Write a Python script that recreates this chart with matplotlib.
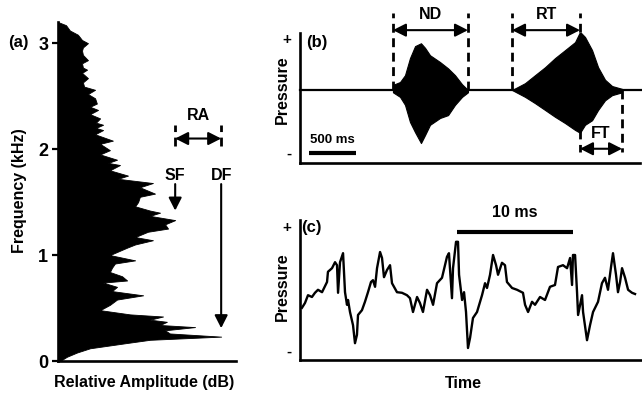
import matplotlib
matplotlib.use("Agg")
import matplotlib.pyplot as plt
import numpy as np

plt.rcParams['font.family'] = ['Liberation Sans', 'DejaVu Sans']
plt.rcParams['font.weight'] = 'bold'

# ---------------- (a) amplitude spectrum ----------------
spec_freq_khz = [3.20, 3.17, 3.12, 3.08, 3.03, 3.00, 2.96, 2.93, 2.89, 2.84, 2.81, 2.77,
                 2.75, 2.72, 2.67, 2.63, 2.59, 2.56, 2.52, 2.48, 2.43, 2.40, 2.37, 2.33,
                 2.29, 2.25, 2.23, 2.20, 2.18, 2.14, 2.08, 2.05, 1.99, 1.95, 1.90, 1.87,
                 1.85, 1.80, 1.75, 1.72, 1.68, 1.64, 1.58, 1.55, 1.50, 1.46, 1.42, 1.40,
                 1.37, 1.33, 1.29, 1.25, 1.22, 1.17, 1.14, 1.10, 1.07, 1.00, 0.95, 0.92,
                 0.88, 0.84, 0.80, 0.76, 0.74, 0.70, 0.66, 0.62, 0.58, 0.53, 0.48, 0.44,
                 0.42, 0.39, 0.37, 0.34, 0.32, 0.29, 0.26, 0.23, 0.20, 0.17, 0.12, 0.08,
                 0.04, 0.00]
spec_amp_db = [0.0, 2.7, 4.0, 6.7, 8.1, 10.1, 8.4, 8.1, 8.4, 10.1, 8.1, 8.4,
               9.8, 8.1, 10.1, 8.4, 8.8, 12.5, 10.1, 12.5, 13.1, 10.8, 13.5, 10.8,
               14.2, 12.8, 15.2, 12.8, 15.2, 12.5, 18.5, 14.2, 17.5, 14.2, 19.9, 16.9,
               20.9, 17.5, 23.6, 20.2, 32.0, 27.6, 32.7, 27.6, 27.0, 26.0, 31.0, 34.4,
               31.0, 39.5, 36.1, 37.1, 30.3, 26.0, 32.0, 26.0, 23.3, 17.5, 26.0, 19.2,
               18.2, 17.5, 21.6, 23.3, 15.2, 19.9, 18.2, 28.7, 19.9, 17.5, 14.2, 24.3,
               35.4, 31.0, 36.7, 34.4, 46.2, 36.1, 37.7, 55.0, 31.0, 23.3, 10.8, 6.4,
               3.0, 0.7]
freq_ticks = [0, 1, 2, 3]
sf_khz, sf_db = 1.33, 39.5      # spectral peak of highest amplitude in the upper band
df_khz, df_db = 0.23, 55.0      # dominant frequency

# ---------------- (b) call envelope ----------------
note1_t_ms = [989, 1064, 1117, 1170, 1224, 1287, 1330, 1383, 1490, 1575, 1649, 1724, 1787]
note1_top = [0.09, 0.14, 0.26, 0.56, 0.77, 0.82, 0.74, 0.61, 0.49, 0.38, 0.26, 0.10, 0.0]
note1_bot = [-0.04, -0.12, -0.26, -0.56, -0.74, -0.93, -0.79, -0.61, -0.49, -0.44, -0.26, -0.12, -0.04]
note2_t_ms = [2256, 2394, 2500, 2607, 2713, 2820, 2926, 2979, 3032, 3107, 3171, 3245, 3320, 3426]
note2_top = [0.0, 0.12, 0.26, 0.40, 0.56, 0.70, 0.84, 1.02, 0.93, 0.70, 0.40, 0.18, 0.07, 0.02]
note2_bot = [0.0, -0.12, -0.23, -0.35, -0.47, -0.58, -0.70, -0.75, -0.61, -0.53, -0.35, -0.18, -0.09, -0.04]
nd_ms = (989, 1787)
rt_ms = (2256, 2979)
ft_ms = (2979, 3426)
scale_b_ms = (100, 600)

# ---------------- (c) waveform detail ----------------
wave_t_ms = [0.17, 0.43, 0.69, 1.03, 1.29, 1.55, 1.90, 2.33, 2.41, 2.76, 3.02, 3.19, 3.28, 3.45,
             3.71, 3.88, 4.05, 4.14, 4.31, 4.57, 4.74, 4.91, 5.00, 5.34, 5.60, 5.86, 6.12, 6.29,
             6.47, 6.64, 6.90, 7.07, 7.24, 7.50, 7.76, 7.93, 8.36, 8.79, 9.22, 9.48, 9.74, 10.09,
             10.34, 10.60, 10.95, 11.21, 11.47, 11.81, 12.24, 12.67, 12.84, 13.10, 13.19, 13.45,
             13.62, 13.71, 13.97, 14.14, 14.31, 14.48, 14.66, 14.91, 15.26, 15.69, 15.95, 16.12,
             16.38, 16.64, 16.90, 17.07, 17.41, 17.67, 17.84, 18.28, 18.71, 19.22, 19.40, 19.66,
             20.00, 20.26, 20.69, 21.12, 21.55, 21.98, 22.24, 22.67, 23.02, 23.28, 23.45, 23.53,
             23.71, 23.88, 23.97, 24.31, 24.40, 24.74, 25.00, 25.26, 25.69, 26.03, 26.29, 26.55,
             26.81, 26.98, 27.24, 27.41, 27.59, 27.76, 28.02, 28.28, 28.62, 28.88]
wave_p = [-0.13, -0.05, 0.08, 0.05, 0.12, 0.17, 0.13, 0.30, 0.47, 0.53, 0.63, 0.58, 0.12, 0.63,
          0.78, 0.13, -0.08, 0.00, -0.20, -0.42, -0.72, -0.58, -0.25, -0.17, -0.03, 0.13, 0.30, 0.33,
          0.22, 0.53, 0.80, 0.70, 0.38, 0.50, 0.58, 0.28, 0.13, 0.12, 0.08, 0.03, -0.20, 0.05,
          -0.05, -0.20, 0.17, 0.08, -0.08, 0.28, 0.37, 0.72, 0.78, 0.03, 0.53, 0.97,
          0.97, 0.42, 0.00, 0.13, -0.20, -0.80, -0.63, -0.30, -0.20, 0.08, 0.28, 0.20,
          0.42, 0.75, 0.58, 0.42, 0.62, 0.58, 0.30, 0.20, 0.17, 0.12, -0.08, -0.20,
          -0.03, -0.08, 0.05, 0.00, 0.22, 0.25, 0.55, 0.58, 0.53, 0.70, 0.25, 0.75,
          0.75, 0.13, -0.25, 0.08, -0.20, -0.67, -0.42, -0.20, -0.03, 0.28, 0.37, 0.17,
          0.55, 0.78, 0.42, 0.13, 0.30, 0.53, 0.37, 0.17, 0.12, 0.10]
scale_c_ms = (13.5, 23.5)

W, H = 642, 398
fig = plt.figure(figsize=(W / 100, H / 100), dpi=100)


def frac(left, top, right, bottom):
    return [left / W, 1 - bottom / H, (right - left) / W, (bottom - top) / H]


FS = 11.5
SPINE = 1.9
arrow_one = dict(arrowstyle='-|>,head_length=0.55,head_width=0.28', lw=1.5,
                 color='black', shrinkA=0, shrinkB=0, mutation_scale=14)
arrow_two = dict(arrowstyle='<|-|>,head_length=0.55,head_width=0.28', lw=1.5,
                 color='black', shrinkA=0, shrinkB=0, mutation_scale=14)
dash_kw = dict(color='black', lw=2.0, dashes=(3.2, 2.0), clip_on=False)

# ---- panel (a)
axa = fig.add_axes(frac(58, 22, 236, 361))
axa.fill_betweenx(spec_freq_khz, 0, spec_amp_db, color='black', lw=0.6)
axa.set_xlim(0, 60)
axa.set_ylim(0, 3.2)
axa.set_yticks(freq_ticks)
axa.set_yticklabels([str(v) for v in freq_ticks], fontsize=13, fontweight='bold')
axa.set_xticks([])
axa.tick_params(axis='y', length=4, width=1.6, pad=3)
for s in ('top', 'right'):
    axa.spines[s].set_visible(False)
for s in ('left', 'bottom'):
    axa.spines[s].set_linewidth(SPINE)

axa.plot([sf_db, sf_db], [2.03, 2.23], **dash_kw)
axa.plot([df_db, df_db], [2.03, 2.23], **dash_kw)
axa.annotate('', xy=(df_db, 2.10), xytext=(sf_db, 2.10), arrowprops=arrow_two)
axa.text((sf_db + df_db) / 2, 2.32, 'RA', ha='center', va='center', fontsize=FS)
axa.text(sf_db, 1.75, 'SF', ha='center', va='center', fontsize=FS)
axa.text(df_db, 1.75, 'DF', ha='center', va='center', fontsize=FS)
axa.annotate('', xy=(sf_db, 1.42), xytext=(sf_db, 1.67), arrowprops=arrow_one)
axa.annotate('', xy=(df_db, 0.31), xytext=(df_db, 1.67), arrowprops=arrow_one)

fig.text(8 / W, 1 - 43 / H, '(a)', ha='left', va='center', fontsize=12)
fig.text(20 / W, 1 - 191 / H, 'Frequency (kHz)', rotation=90, ha='center', va='center', fontsize=FS)
fig.text(144 / W, 1 - 382 / H, 'Relative Amplitude (dB)', ha='center', va='center', fontsize=FS)

# ---- panel (b)
axb = fig.add_axes(frac(300, 33, 640, 163))
axb.set_xlim(0, 3617)
axb.set_ylim(-1.28, 1.0)
axb.plot([0, 3650], [0, 0], color='black', lw=1.6, clip_on=False)
axb.fill_between(note1_t_ms, note1_bot, note1_top, color='black', lw=0.8)
axb.fill_between(note2_t_ms, note2_bot, note2_top, color='black', lw=0.8)
for t in nd_ms + rt_ms:
    axb.plot([t, t], [0, 1.35], **dash_kw)
axb.plot([ft_ms[0], ft_ms[0]], [-0.70, -1.09], **dash_kw)
axb.plot([ft_ms[1], ft_ms[1]], [0, -1.09], **dash_kw)
axb.annotate('', xy=(nd_ms[1], 1.05), xytext=(nd_ms[0], 1.05), arrowprops=arrow_two,
             annotation_clip=False)
axb.annotate('', xy=(rt_ms[1], 1.05), xytext=(rt_ms[0], 1.05), arrowprops=arrow_two,
             annotation_clip=False)
axb.annotate('', xy=(ft_ms[1], -1.03), xytext=(ft_ms[0], -1.03), arrowprops=arrow_two)
axb.text(sum(nd_ms) / 2, 1.32, 'ND', ha='center', va='center', fontsize=FS, clip_on=False)
axb.text(sum(rt_ms) / 2, 1.32, 'RT', ha='center', va='center', fontsize=FS, clip_on=False)
axb.text(sum(ft_ms) / 2, -0.76, 'FT', ha='center', va='center', fontsize=FS)
axb.text(180, 0.84, '(b)', ha='center', va='center', fontsize=12)
axb.plot(scale_b_ms, [-1.105, -1.105], color='black', lw=3.0, solid_capstyle='butt')
axb.text(sum(scale_b_ms) / 2 - 10, -0.87, '500 ms', ha='center', va='center', fontsize=9.5)

# ---- panel (c)
axc = fig.add_axes(frac(300, 220, 642, 360))
axc.set_xlim(0, 29.48)
axc.set_ylim(-1.0, 1.333)
axc.plot(wave_t_ms, wave_p, color='black', lw=1.7)
axc.plot(scale_c_ms, [1.13, 1.13], color='black', lw=3.0, solid_capstyle='butt')
axc.text(sum(scale_c_ms) / 2, 1.45, '10 ms', ha='center', va='center', fontsize=FS,
         clip_on=False)
axc.text(0.95, 1.2, '(c)', ha='center', va='center', fontsize=12)

for ax, plus, minus in ((axb, 0.91, -1.09), (axc, 1.22, -0.83)):
    ax.set_xticks([])
    ax.set_yticks([plus, minus])
    ax.set_yticklabels(['+', '-'], fontsize=11, fontweight='bold')
    ax.tick_params(axis='y', length=0, pad=6)
    for s in ('top', 'right'):
        ax.spines[s].set_visible(False)
    for s in ('left', 'bottom'):
        ax.spines[s].set_linewidth(SPINE)

fig.text(282 / W, 1 - 90 / H, 'Pressure', rotation=90, ha='center', va='center', fontsize=FS)
fig.text(282 / W, 1 - 287 / H, 'Pressure', rotation=90, ha='center', va='center', fontsize=FS)
fig.text(463 / W, 1 - 383 / H, 'Time', ha='center', va='center', fontsize=FS)

fig.savefig('out.png', dpi=100)
